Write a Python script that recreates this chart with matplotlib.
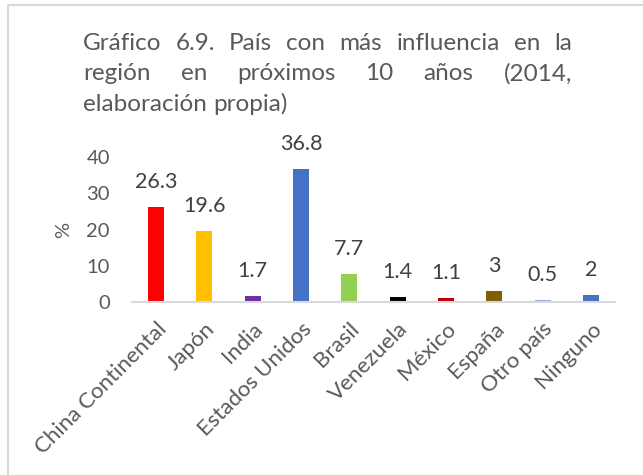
import matplotlib
matplotlib.use('Agg')
import matplotlib.pyplot as plt
from matplotlib.lines import Line2D

# ---------------------------------------------------------------------------
# Data
# ---------------------------------------------------------------------------

categories = ['China Continental', 'Japón', 'India', 'Estados Unidos', 'Brasil',
              'Venezuela', 'México', 'España', 'Otro país', 'Ninguno']
values = [26.3, 19.6, 1.7, 36.8, 7.7, 1.4, 1.1, 3, 0.5, 2]
value_labels = ['26.3', '19.6', '1.7', '36.8', '7.7', '1.4', '1.1', '3', '0.5', '2']
bar_colors = ['#FF0000', '#FFC000', '#7030A0', '#4472C4', '#92D050',
              '#000000', '#C00000', '#7F6000', '#8FAADC', '#4472C4']
title_lines = [
    ['Gráfico', '6.9.', 'País', 'con', 'más', 'influencia', 'en', 'la'],
    ['región', 'en', 'próximos', '10', 'años', '(2014,'],
    ['elaboración', 'propia)'],
]
yticks = [0, 10, 20, 30, 40]

FONT = 'Lato'
W, H = 643, 475
plt.rcParams['font.family'] = [FONT, 'DejaVu Sans']

fig = plt.figure(figsize=(W / 100, H / 100), dpi=100)
ax = fig.add_axes([132 / W, 1 - 302 / H, (615 - 132) / W, (302 - 157) / H])

x = range(len(categories))
ax.bar(x, values, width=0.33, color=bar_colors, zorder=2)
for xi, v, lab in zip(x, values, value_labels):
    ax.annotate(lab, (xi, v), xytext=(0, 18), textcoords='offset points',
                ha='center', va='center', fontsize=15.5, color='#404040')

ax.set_xlim(-0.5, len(categories) - 0.5)
ax.set_ylim(0, 40)
ax.set_yticks(yticks)
ax.set_xticks(list(x))
ax.set_xticklabels(categories, rotation=45, ha='right', rotation_mode='anchor')
ax.tick_params(axis='both', length=0, labelcolor='#595959')
ax.tick_params(axis='y', pad=16, labelsize=14.5)
ax.tick_params(axis='x', pad=12, labelsize=16)
for side in ['top', 'right', 'left']:
    ax.spines[side].set_visible(False)
ax.spines['bottom'].set_color('#D9D9D9')
ax.spines['bottom'].set_linewidth(1.5)
ax.set_ylabel('%', fontsize=14.5, color='#595959', labelpad=10)

# outer chart frame (left and top edges visible)
fig.add_artist(Line2D([8 / W, 8 / W, 1.0], [0.0, 1 - 5 / H, 1 - 5 / H],
                      transform=fig.transFigure, color='#D9D9D9', lw=1.5))

# justified title
fig.canvas.draw()
renderer = fig.canvas.get_renderer()
x_left, x_right = 83, 572
baselines = [50, 80.5, 111]
for li, words in enumerate(title_lines):
    texts = [fig.text(0, 1 - baselines[li] / H, w, fontsize=17.5, color='#595959',
                      va='baseline', ha='left') for w in words]
    widths = [t.get_window_extent(renderer).width for t in texts]
    if li < len(title_lines) - 1:
        gap = (x_right - x_left - sum(widths)) / (len(words) - 1)
    else:
        gap = 6
    pos = x_left
    for t, w in zip(texts, widths):
        t.set_x(pos / W)
        pos += w + gap

fig.savefig('out.png', dpi=100)
